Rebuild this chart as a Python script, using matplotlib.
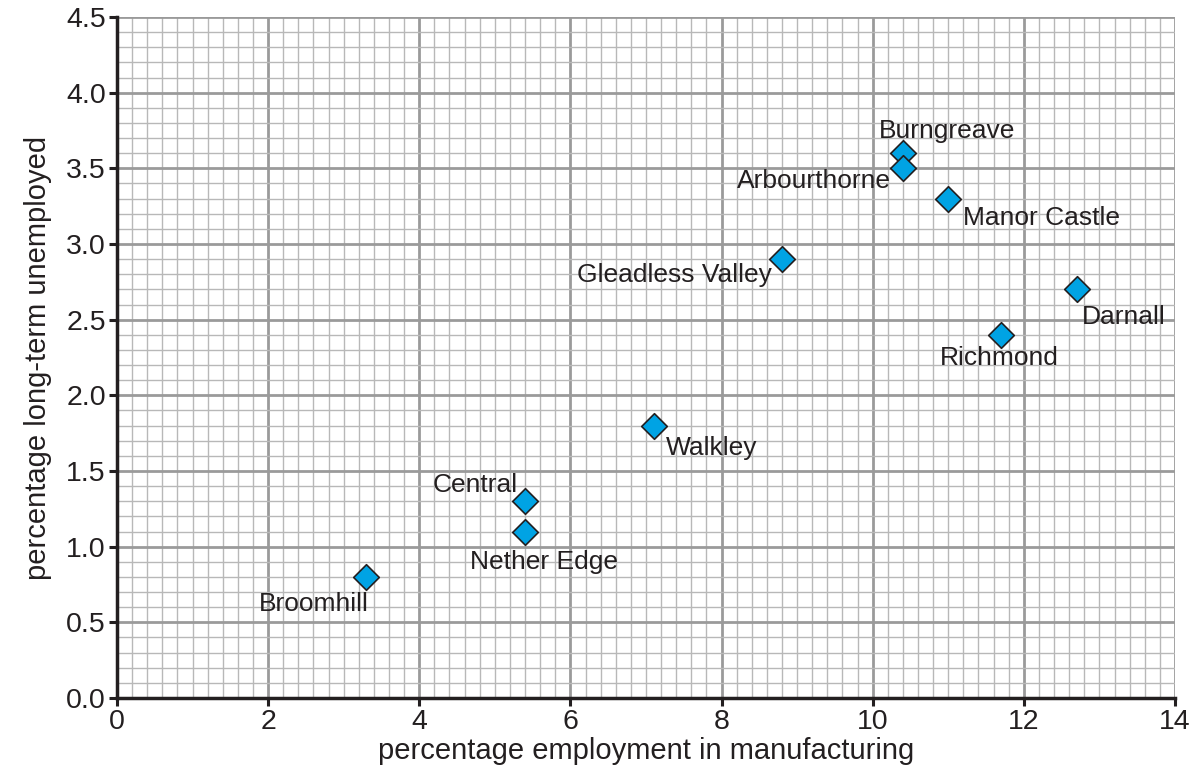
import matplotlib
matplotlib.use("Agg")
import matplotlib.pyplot as plt
from matplotlib.ticker import MultipleLocator

plt.rcParams["font.family"] = ["Liberation Sans", "DejaVu Sans"]

# Wards of Sheffield
wards = ["Burngreave", "Arbourthorne", "Manor Castle", "Gleadless Valley", "Darnall",
         "Richmond", "Walkley", "Central", "Nether Edge", "Broomhill"]
manufacturing = [10.4, 10.4, 11.0, 8.8, 12.7, 11.7, 7.1, 5.4, 5.4, 3.3]
unemployed = [3.6, 3.5, 3.3, 2.9, 2.7, 2.4, 1.8, 1.3, 1.1, 0.8]

# label placement: (dx px, dy px, ha)
label_pos = {
    "Burngreave": (44, 22, "center"),
    "Arbourthorne": (-12, -13, "right"),
    "Manor Castle": (15, -19, "left"),
    "Gleadless Valley": (-10, -16, "right"),
    "Darnall": (5, -28, "left"),
    "Richmond": (-2, -23, "center"),
    "Walkley": (12, -22, "left"),
    "Central": (-7, 16, "right"),
    "Nether Edge": (19, -30, "center"),
    "Broomhill": (2, -27, "right"),
}

text_color = "#231f20"

fig = plt.figure(figsize=(11.97, 7.8), dpi=100)
ax = fig.add_axes([0.0977, 0.1051, 0.8839, 0.8731])

ax.set_xlim(0, 14)
ax.set_ylim(0, 4.5)
ax.xaxis.set_major_locator(MultipleLocator(2))
ax.xaxis.set_minor_locator(MultipleLocator(0.2))
ax.yaxis.set_major_locator(MultipleLocator(0.5))
ax.yaxis.set_minor_locator(MultipleLocator(0.1))
ax.yaxis.set_major_formatter(plt.FormatStrFormatter("%.1f"))

ax.grid(which="minor", color="#b8b8b8", linewidth=1.0)
ax.grid(which="major", color="#9a9a9a", linewidth=2.0)
ax.set_axisbelow(True)

for side in ["top", "right"]:
    ax.spines[side].set_visible(False)
for side in ["left", "bottom"]:
    ax.spines[side].set_linewidth(2.5)
    ax.spines[side].set_color(text_color)

ax.tick_params(which="major", direction="out", length=6, width=2.2, color=text_color,
               labelsize=20.5, labelcolor=text_color, pad=2)
ax.tick_params(which="minor", length=0)

ax.scatter(manufacturing, unemployed, marker="D", s=170, color="#00a3e4",
           edgecolor="#231f20", linewidth=1.2, zorder=3, clip_on=False)

for name, x, y in zip(wards, manufacturing, unemployed):
    dx, dy, ha = label_pos[name]
    ax.annotate(name, (x, y), xytext=(dx, dy), textcoords="offset pixels",
                ha=ha, va="center", fontsize=19, color=text_color, zorder=4)

ax.set_xlabel("percentage employment in manufacturing", fontsize=21, color=text_color, labelpad=1)
ax.set_ylabel("percentage long-term unemployed", fontsize=21, color=text_color, labelpad=10)

fig.savefig("out.png", dpi=100)
